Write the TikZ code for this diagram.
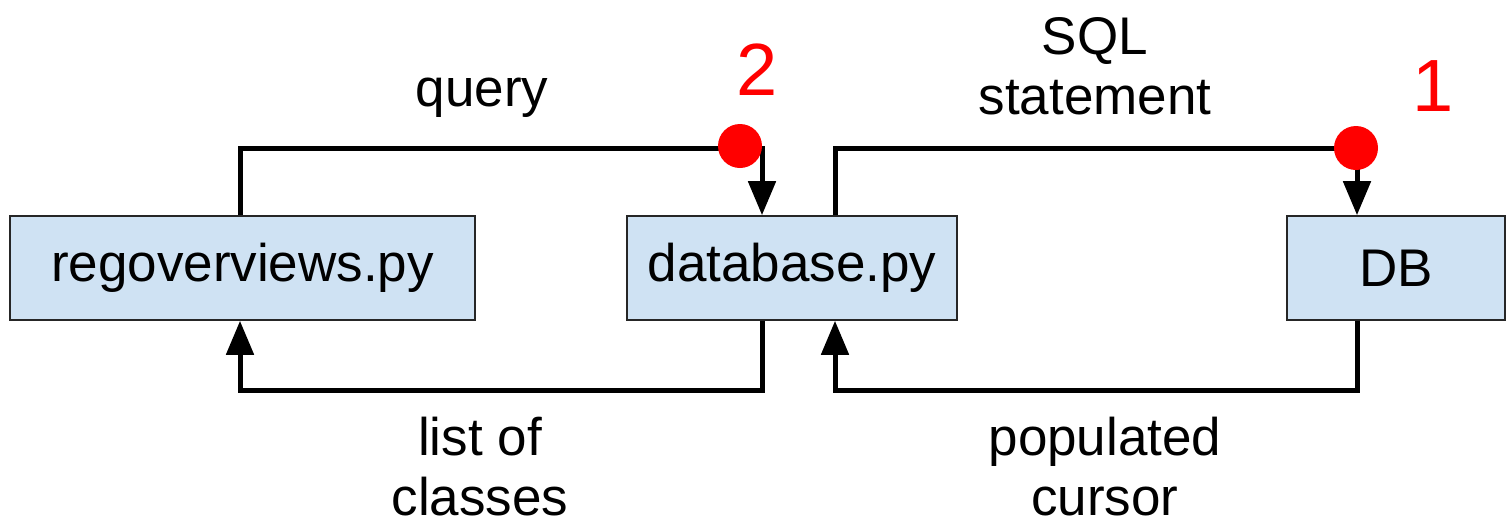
\documentclass[tikz,border=0pt]{standalone}
\usepackage{fontspec}
\setmainfont{Liberation Sans}
\usetikzlibrary{arrows.meta,calc}
\definecolor{boxfill}{HTML}{CFE2F3}
\definecolor{dotred}{HTML}{FF0000}
\tikzset{
  box/.style={draw=black!85,line width=0.8pt,fill=boxfill,minimum height=52pt,inner sep=0pt,font=\fontsize{26.5}{30}\selectfont},
  conn/.style={line width=2.5pt,line join=miter},
  tip/.style={-{Triangle[width=13.5pt,length=17pt]}},
  lbl/.style={font=\fontsize{26.5}{30}\selectfont,align=center,inner sep=0pt},
  num/.style={font=\fontsize{37}{40}\selectfont,text=dotred,inner sep=0pt},
  dot/.style={circle,fill=dotred,minimum size=22pt,inner sep=0pt}
}
\begin{document}
\begin{tikzpicture}[x=0.5pt,y=-0.5pt]
\useasboundingbox (0,0) rectangle (1506,525);
\node[box,minimum width=232.5pt] (reg) at (242.5,268) {regoverviews.py};
\node[box,minimum width=165pt] (dbpy) at (792,268) {database.py};
\node[box,minimum width=109pt] (db) at (1396,268) {DB};
% query
\coordinate (qa) at (240,148);
\coordinate (qb) at (762,148);
\draw[conn,tip] (reg.north -| qa) -- (qa) -- (qb) -- (qb |- dbpy.north);
\node[dot] (d2) at (740,146) {};
% list of classes
\coordinate (la) at (762,390);
\coordinate (lb) at (240,390);
\draw[conn,tip] (dbpy.south -| la) -- (la) -- (lb) -- (lb |- reg.south);
% SQL statement
\coordinate (sa) at (835,148);
\coordinate (sb) at (1357,148);
\draw[conn,tip] (dbpy.north -| sa) -- (sa) -- (sb) -- (sb |- db.north);
\node[dot] (d1) at (1356,148) {};
% populated cursor
\coordinate (pa) at (1357,390);
\coordinate (pb) at (835,390);
\draw[conn,tip] (db.south -| pa) -- (pa) -- (pb) -- (pb |- dbpy.south);
% labels
\node[lbl] (lq) at (482,98) {query};
\node[lbl] (ls) at (1095,66) {SQL\\statement};
\node[lbl] (ll) at (480,467) {list of\\classes};
\node[lbl] (lp) at (1105,467) {populated\\cursor};
\node[num] (n2) at (757,70) {2};
\node[num] (n1) at (1433,86) {1};
\end{tikzpicture}
\end{document}
